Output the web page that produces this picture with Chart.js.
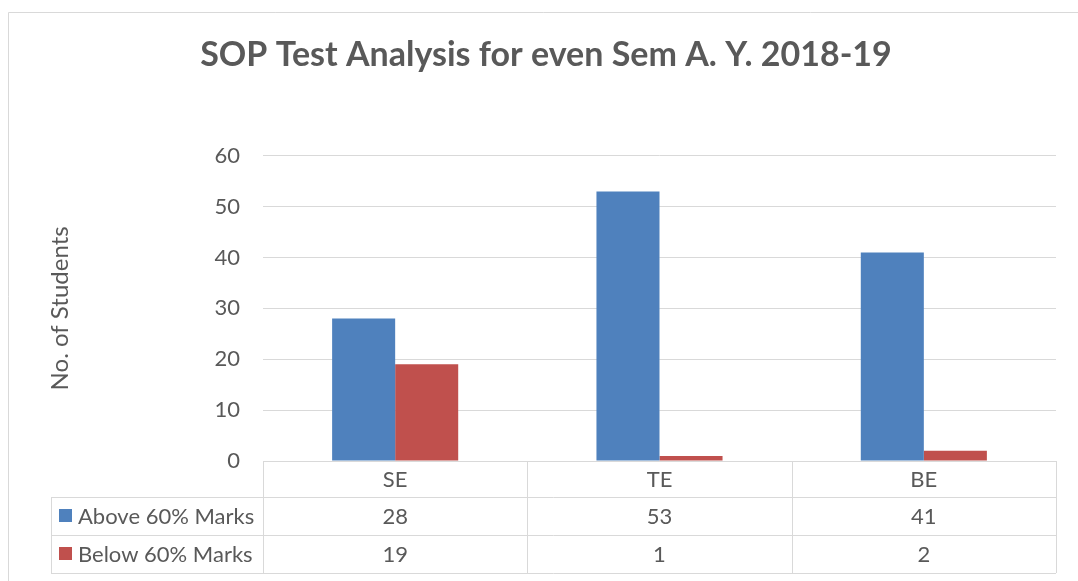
<!DOCTYPE html>
<html>
<head>
<meta charset="utf-8">
<script src="https://cdn.jsdelivr.net/npm/chart.js@4"></script>
<style>
  html, body { margin: 0; padding: 0; background: #ffffff; }
  #wrap { width: 1078px; height: 581px; }
</style>
</head>
<body>
<div id="wrap"><canvas id="sopChart" width="1078" height="581"></canvas></div>
<script>
// ==========================================
// DATA
// ==========================================

const classes = ["SE", "TE", "BE"];
const aboveMarks = [28, 53, 41];
const belowMarks = [19, 1, 2];
const seriesNames = ["Above 60% Marks", "Below 60% Marks"];
const seriesColors = ["#4F81BD", "#C0504D"];

const textColor = "#595959";
const lineColor = "#D9D9D9";
const fontName = "Lato, 'Open Sans', sans-serif";

// ==========================================
// OUTER FRAME + DATA TABLE
// ==========================================

const framePlugin = {
    id: "frame",
    beforeDraw(chart) {
        const ctx = chart.ctx;
        ctx.save();
        ctx.fillStyle = "#ffffff";
        ctx.fillRect(0, 0, chart.width, chart.height);
        ctx.strokeStyle = lineColor;
        ctx.lineWidth = 1;
        ctx.beginPath();
        ctx.moveTo(8.5, chart.height);
        ctx.lineTo(8.5, 12.5);
        ctx.lineTo(chart.width, 12.5);
        ctx.stroke();
        ctx.restore();
    }
};

const tablePlugin = {
    id: "dataTable",
    afterDraw(chart) {
        const ctx = chart.ctx;
        const area = chart.chartArea;
        const x = chart.scales.x;
        const top = area.bottom;
        const rowH = [36, 38, 38];
        const legendLeft = 51;

        // column edges
        const edges = [area.left];
        for (let i = 0; i < classes.length - 1; i++) {
            edges.push((x.getPixelForValue(i) + x.getPixelForValue(i + 1)) / 2);
        }
        edges.push(area.right);

        const y0 = top;
        const y1 = y0 + rowH[0];
        const y2 = y1 + rowH[1];
        const y3 = y2 + rowH[2];

        ctx.save();
        ctx.strokeStyle = lineColor;
        ctx.lineWidth = 1;
        ctx.beginPath();
        ctx.moveTo(area.left, Math.round(y0) + 0.5);
        ctx.lineTo(area.right, Math.round(y0) + 0.5);
        [y1, y2, y3].forEach(function (yy) {
            ctx.moveTo(legendLeft, Math.round(yy) + 0.5);
            ctx.lineTo(area.right, Math.round(yy) + 0.5);
        });
        edges.forEach(function (ex) {
            ctx.moveTo(Math.round(ex) + 0.5, y0);
            ctx.lineTo(Math.round(ex) + 0.5, y3);
        });
        ctx.moveTo(legendLeft + 0.5, y1);
        ctx.lineTo(legendLeft + 0.5, y3);
        ctx.stroke();

        ctx.fillStyle = textColor;
        ctx.font = "22px " + fontName;
        ctx.textAlign = "center";
        ctx.textBaseline = "middle";

        classes.forEach(function (c, i) {
            const cx = x.getPixelForValue(i);
            ctx.fillText(c, cx, (y0 + y1) / 2 + 1);
            ctx.fillText(String(aboveMarks[i]), cx, (y1 + y2) / 2 + 1);
            ctx.fillText(String(belowMarks[i]), cx, (y2 + y3) / 2 + 1);
        });

        const rowMid = [(y1 + y2) / 2, (y2 + y3) / 2];
        seriesNames.forEach(function (name, k) {
            ctx.fillStyle = seriesColors[k];
            ctx.fillRect(59, rowMid[k] - 7, 13, 13);
            ctx.fillStyle = textColor;
            ctx.textAlign = "left";
            ctx.fillText(name, 78, rowMid[k] + 1);
        });
        ctx.restore();
    }
};

// ==========================================
// BAR CHART
// ==========================================

const sopCtx = document.getElementById("sopChart");

new Chart(sopCtx, {

    type: "bar",

    data: {

        labels: classes,

        datasets: [{
            label: seriesNames[0],
            data: aboveMarks,
            backgroundColor: seriesColors[0],
            categoryPercentage: 0.477,
            barPercentage: 1
        }, {
            label: seriesNames[1],
            data: belowMarks,
            backgroundColor: seriesColors[1],
            categoryPercentage: 0.477,
            barPercentage: 1
        }]

    },

    options: {

        responsive: false,
        animation: false,
        devicePixelRatio: 1,

        layout: {
            padding: { left: 36, right: 22, top: 0, bottom: 120 }
        },

        plugins: {
            legend: { display: false },
            tooltip: { enabled: false },
            title: {
                display: true,
                text: "SOP Test Analysis for even Sem A. Y. 2018-19",
                color: textColor,
                font: { family: fontName, size: 34, weight: "bold", lineHeight: 1.2 },
                padding: { top: 35, bottom: 80 }
            }
        },

        scales: {
            x: {
                display: false
            },
            y: {
                min: 0,
                max: 60,
                afterFit(scale) { scale.width = 227; },
                border: { display: false },
                grid: { color: lineColor, lineWidth: 1, drawTicks: false },
                ticks: {
                    stepSize: 10,
                    color: textColor,
                    padding: 23,
                    font: { family: fontName, size: 22 }
                },
                title: {
                    display: true,
                    text: "No. of Students",
                    color: textColor,
                    font: { family: fontName, size: 24 },
                    padding: { top: 10, bottom: 0 }
                }
            }
        }

    },

    plugins: [framePlugin, tablePlugin]

});
</script>
</body>
</html>
